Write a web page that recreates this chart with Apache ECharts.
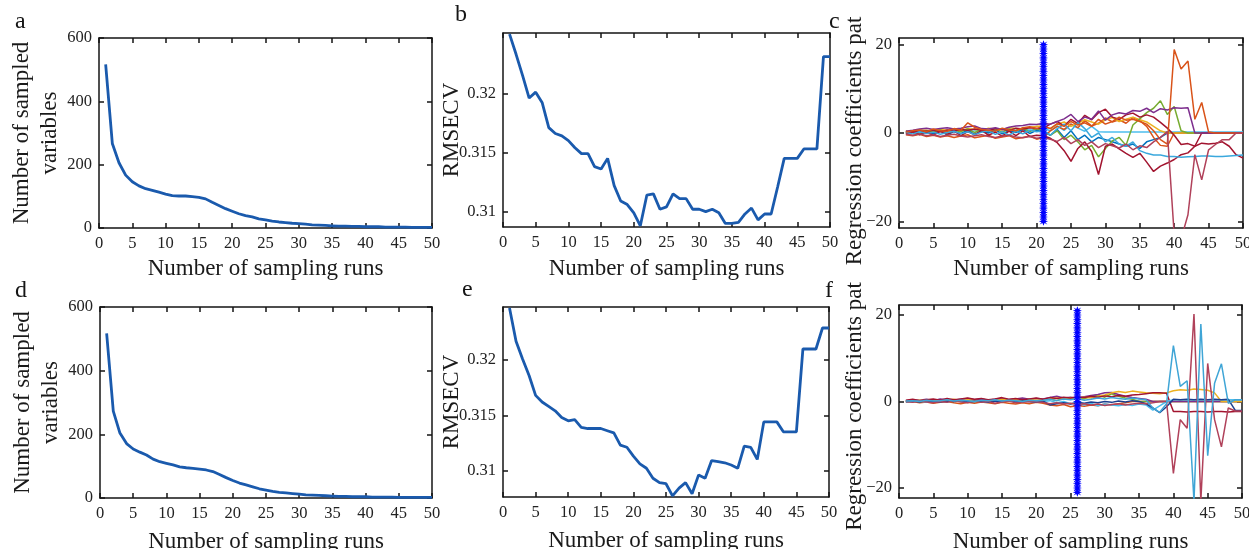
<!DOCTYPE html>
<html>
<head>
<meta charset="utf-8">
<script src="https://cdn.jsdelivr.net/npm/echarts@6/dist/echarts.min.js"></script>
<style>
  html, body { margin: 0; padding: 0; background: #fff; }
  #chart { width: 1249px; height: 549px; }
</style>
</head>
<body>
<div id="chart"></div>
<script>
// sampling runs (x) and x tick labels
const runs = [1,2,3,4,5,6,7,8,9,10,11,12,13,14,15,16,17,18,19,20,21,22,23,24,25,26,27,28,29,30,31,32,33,34,35,36,37,38,39,40,41,42,43,44,45,46,47,48,49,50];
const runTicks = [0, 5, 10, 15, 20, 25, 30, 35, 40, 45, 50];

// panels a / d : number of sampled variables
const varsA = [517,267,206,167,146,133,124,119,113,107,102,101,101,99,97,92,81,71,61,53,45,39,35,29,26,22,19,17,15,14,12,10,9,8,7,6,6,5,5,4,4,4,3,3,3,3,2,2,2,2];
const varsD = [517,273,204,171,154,144,135,122,114,109,104,98,95,93,91,88,83,74,64,55,47,41,35,29,25,21,18,16,14,12,10,9,8,7,6,5,5,4,4,4,3,3,3,3,2,2,2,2,2,2];
const varsTicks = [0, 200, 400, 600];

// panels b / e : RMSECV
const rmsecvB = [0.3250,0.3233,0.3215,0.3196,0.3201,0.3192,0.3171,0.3166,0.3164,0.3160,0.3154,0.3149,0.3149,0.3138,0.3136,0.3145,0.3122,0.3109,0.3106,0.3099,0.3088,0.3114,0.3115,0.3102,0.3104,0.3115,0.3111,0.3111,0.3102,0.3102,0.3100,0.3102,0.3099,0.3090,0.3090,0.3091,0.3098,0.3103,0.3093,0.3098,0.3098,0.3121,0.3145,0.3145,0.3145,0.3153,0.3153,0.3153,0.3231,0.3231];
const rmsecvE = [0.3247,0.3217,0.3201,0.3186,0.3168,0.3162,0.3158,0.3154,0.3148,0.3145,0.3146,0.3139,0.3138,0.3138,0.3138,0.3136,0.3134,0.3123,0.3121,0.3113,0.3106,0.3102,0.3093,0.3089,0.3088,0.3077,0.3084,0.3089,0.3079,0.3096,0.3093,0.3109,0.3108,0.3107,0.3105,0.3102,0.3122,0.3121,0.3110,0.3144,0.3144,0.3144,0.3135,0.3135,0.3135,0.3210,0.3210,0.3210,0.3229,0.3229];
const rmsecvTicks = [0.31, 0.315, 0.32];

// panel c : regression coefficient paths
const cPurple = [0.4,0.6,0.9,1.1,0.8,1.0,1.2,0.9,1.1,1.4,1.6,1.0,0.9,1.2,0.8,1.3,1.6,1.7,2.0,1.9,2.2,2.0,2.6,3.2,4.2,2.6,3.6,3.1,5.0,2.9,4.1,4.6,4.3,5.1,4.9,5.6,4.6,5.5,5.2,5.7,5.6,5.7,0,0,0,0,0,0,0,0];
const cOrange = [0.2,0.5,0.7,0.3,0.9,0.5,0.4,1.0,0.6,2.3,1.3,0.8,0.6,0.4,1.1,0.7,0.5,1.2,1.4,1.0,1.6,1.0,2.1,1.5,2.6,1.8,2.3,1.5,3.1,2.0,2.6,3.6,2.9,3.1,2.6,2.0,0.5,-1.5,-2.5,18.9,14.5,16.3,3.1,6.9,0.2,0,0,0,0,0];
const cOrange2 = [-0.4,-0.6,-0.3,-0.8,-0.5,-0.9,-0.6,-1.0,-0.7,-0.4,-1.1,-0.8,-0.5,-1.2,-0.9,-0.6,-1.3,-1.0,-0.7,-1.4,-1.0,0.5,1.5,0.8,2.0,1.2,2.8,1.6,2.2,3.4,2.5,3.0,2.2,3.5,2.8,1.5,-1.0,-2.8,-3.0,0,0,0,0,0,0,0,0,0,0,0];
const cYellow = [0.5,0.3,0.7,0.6,0.4,0.8,0.6,0.9,0.5,1.0,0.8,0.6,1.1,0.9,0.7,1.2,1.0,0.8,1.3,1.5,1.5,1.0,2.0,2.5,1.5,2.2,3.0,2.5,2.0,3.0,3.5,2.6,3.1,3.6,3.0,2.5,1.5,0.5,0,0,0,0,0,0,0,0,0,0,0,0];
const cGreen = [0.1,0.4,-0.2,0.5,0.2,0.7,0.0,0.6,0.3,0.9,0.1,0.8,0.4,1.0,0.2,0.9,0.5,1.1,0.3,1.0,0.5,-0.5,0.5,-1.5,-0.5,-2.0,-3.8,-2.8,-5.4,-3.5,-1.8,-1.0,-2.8,1.8,3.2,4.6,5.6,7.3,4.2,6.0,0.5,0,0,0,0,0,0,0,0,0];
const cBlue = [0.0,0.3,-0.3,0.4,-0.2,0.5,-0.4,0.3,-0.1,0.6,-0.3,0.4,0.0,0.7,-0.2,0.5,0.1,0.8,-0.1,0.6,0.3,-0.5,0.8,-1.0,0.5,-1.5,-0.5,-2.0,-1.0,-1.5,-2.0,-2.5,-3.0,-2.5,-3.5,-2.0,-1.5,-1.0,0,0,0,0,0,0,0,0,0,0,0,0];
const cRedBig = [-0.3,-0.5,-0.2,-0.6,-0.4,-0.8,-0.5,-0.3,-0.7,-0.9,-0.6,-0.4,-0.8,-1.0,-0.7,-0.5,-0.9,-1.1,-0.8,-1.2,-1.0,-1.4,-1.9,-1.0,-2.4,-1.5,-2.8,-2.0,-3.3,-2.4,-2.9,-3.4,-2.5,-3.8,-2.9,-3.3,-2.0,-1.0,0.3,-23,-24,-18.5,-4.9,-10.6,-3.8,-2.6,-1.5,-1.5,0,0];
const cRedV = [-0.2,0.3,-0.4,0.2,-0.5,0.4,-0.3,0.5,-0.6,0.3,-0.4,0.6,-0.5,0.2,-0.7,0.4,-0.6,0.5,-0.8,-0.5,-0.6,-1.2,-2.2,-4.0,-6.4,-3.5,-2.0,-4.2,-9.4,-3.0,-2.5,-3.6,-4.6,-5.5,-4.6,-6.6,-8.7,-7.5,-6.8,-6.0,-4.9,-4.5,-3.0,0,0,0,0,0,0,0];
const cRedUp = [0.3,0.2,0.5,0.4,0.6,0.3,0.7,0.5,0.8,0.6,0.9,0.7,0.5,1.0,0.8,0.6,1.1,0.9,1.2,1.0,1.1,2.0,2.6,1.6,3.1,2.1,4.0,3.0,4.6,5.4,3.6,3.1,4.1,4.5,3.6,4.1,3.6,2.4,1.1,-0.5,-2.6,-2.4,-3.0,-2.3,-2.5,-2.3,-2.0,-3.0,-4.9,-5.7];
const cCyanLow = [0.1,-0.2,0.3,-0.1,0.2,-0.3,0.1,0.4,-0.2,0.3,-0.4,0.2,0.5,-0.3,0.3,-0.5,0.4,-0.2,0.6,0.3,0.5,-0.5,1.0,2.0,0.5,2.4,1.0,-1.0,0.0,-2.0,-1.0,-2.5,-3.0,-2.0,-4.0,-4.6,-5.0,-5.0,-5.3,-5.3,-5.5,-5.4,-5.3,-5.2,-5.2,-5.3,-5.3,-5.2,-5.1,-5.0];
const cCyanFlat = [0.2,0.4,0.1,0.5,0.3,0.6,0.2,0.4,0.7,0.3,0.5,0.8,0.4,0.6,0.9,0.5,0.7,1.0,0.6,0.8,1.0,0.5,1.6,0.6,2.0,1.1,0.4,1.5,0.3,0.2,0.2,0.2,0.2,0.2,0.2,0.2,0.2,0.2,0.2,0.2,0.2,0.2,0.2,0.2,0.2,0.2,0.2,0.2,0.2,0.2];
const cSelectedRun = 21;
const cMarkerY = [-20,-19,-18,-17,-16,-15,-14,-13,-12,-11,-10,-9,-8,-7,-6,-5,-4,-3,-2,-1,0,1,2,3,4,5,6,7,8,9,10,11,12,13,14,15,16,17,18,19,20];

// panel f : regression coefficient paths
const fOrange = [-0.2,0.0,-0.3,-0.1,-0.4,-0.2,0.0,-0.3,-0.5,-0.2,-0.4,-0.1,-0.3,-0.5,-0.2,-0.4,-0.6,-0.3,-0.5,-0.2,-0.4,-0.8,-1.0,-0.7,-1.2,-0.9,-1.1,-0.8,-1.0,-0.6,-0.8,-0.5,-0.3,0,0,0,0,0,0,0,0,0,0,0,0,0,0,0,0,0];
const fGreen = [0.1,0.0,0.2,0.1,0.3,0.0,0.2,0.1,0.3,0.2,0.0,0.2,0.1,0.3,0.2,0.1,0.3,0.0,0.2,0.1,0.3,0.6,0.2,0.8,0.5,1.0,0.6,1.2,1.5,1.0,1.8,1.2,0.8,0.5,0,0,0,0,0,0,0,0,0,0,0,0,0,0,0,0];
const fPurple = [0.2,0.4,0.3,0.5,0.2,0.6,0.4,0.3,0.5,0.7,0.4,0.6,0.3,0.5,0.7,0.4,0.6,0.8,0.5,0.7,0.6,0.9,1.2,0.8,1.0,0.7,1.1,1.4,1.6,2.0,2.1,1.6,1.2,0.9,0.7,0.5,0,0,0,0,0,0,0,0,0,0,0,0,0,0];
const fYellow = [0.2,0.1,0.3,0.2,0.4,0.1,0.3,0.5,0.2,0.4,0.3,0.1,0.4,0.2,0.5,0.3,0.4,0.2,0.5,0.3,0.4,0.6,0.8,0.5,0.9,0.7,1.0,0.8,1.2,1.5,2.0,2.3,2.1,2.4,2.2,2.0,1.9,1.8,2.0,2.5,2.7,2.6,2.9,2.8,2.6,2.0,0,0,0,0];
const fRedFlat = [0.3,0.5,0.2,0.4,0.6,0.3,0.7,0.4,0.6,0.8,0.5,0.7,0.4,0.6,0.9,0.5,0.7,0.4,0.6,0.8,0.5,0.9,0.7,1.0,0.8,1.1,0.9,1.2,1.0,1.3,1.1,1.4,1.2,1.5,1.6,1.8,2.0,2.0,1.9,-2.3,-2.3,-2.4,-2.3,-2.3,-2.4,-2.3,-2.3,-2.4,-2.3,-2.3];
const fCyanFlat = [-0.1,0.0,0.1,-0.2,0.0,0.1,-0.1,0.2,0.0,-0.1,0.1,0.0,-0.2,0.1,0.0,0.2,-0.1,0.0,0.1,-0.1,0.0,0.2,-0.3,0.0,-0.5,-0.2,-0.8,-0.4,-1.0,-0.6,-0.8,-1.0,-0.7,-0.9,-0.6,-0.8,-2.0,-1.0,0.0,0.4,0.4,0.4,0.4,0.4,0.4,0.4,0.4,0.4,0.4,0.4];
const fNavy = [0.0,0.1,-0.1,0.2,0.0,-0.1,0.1,0.0,0.2,-0.1,0.0,0.1,-0.2,0.1,0.0,0.2,-0.1,0.1,0.0,-0.2,0.1,-0.8,-0.5,-0.3,-0.6,-0.2,-0.4,-0.1,-0.3,0.0,-0.2,0.1,-0.1,0.2,0.0,-0.5,-1.5,-2.6,-1.2,0.5,0.4,0.5,0.4,0.5,0.4,0.5,0.4,0.5,-2.0,-2.1];
const fRedZig = [0.0,-0.2,0.1,-0.1,-0.3,0.0,-0.2,0.2,-0.1,-0.3,0.1,-0.2,0.0,-0.4,-0.1,0.1,-0.3,-0.2,0.0,-0.1,-0.2,-0.5,-0.3,-0.6,-0.4,-0.7,-0.5,-0.8,-0.6,-0.9,-0.7,-0.5,-0.8,-0.6,-0.4,-0.5,-0.3,0.0,0.0,-16.6,-4.2,-6.2,20.2,-23,8.8,-4.2,-10.5,-1.5,-2.2,-2.2];
const fCyanZig = [0.1,0.2,0.0,0.3,0.1,0.2,0.4,0.1,0.3,0.2,0.0,0.3,0.2,0.4,0.1,0.3,0.2,0.0,0.3,0.2,0.3,0.5,0.2,0.6,0.4,0.7,0.3,0.5,0.8,0.6,0.9,0.7,0.5,0.8,0.6,0.4,-1.5,-2.5,-0.5,12.9,3.5,4.8,-23,17.9,-12.5,4.2,8.7,-0.4,0.4,0.4];
const fSelectedRun = 26;
const fMarkerY = [-21,-20,-19,-18,-17,-16,-15,-14,-13,-12,-11,-10,-9,-8,-7,-6,-5,-4,-3,-2,-1,0,1,2,3,4,5,6,7,8,9,10,11,12,13,14,15,16,17,18,19,20,21];
const coefTicks = [-20, 0, 20];

const SERIF = '"Liberation Serif", "DejaVu Serif", serif';
const INK = '#151515';
const CURVE = '#1a5aad';
const STAR = 'path://M5,0 L6.2,3.2 L9.3,1.4 L7.2,4.1 L10,5 L7.2,5.9 L9.3,8.6 L6.2,6.8 L5,10 L3.8,6.8 L0.7,8.6 L2.8,5.9 L0,5 L2.8,4.1 L0.7,1.4 L3.8,3.2 Z';

const chart = echarts.init(document.getElementById('chart'));

const grids = [], xAxes = [], yAxes = [], series = [];

const lineStyleAxis = { color: INK, width: 1.5 };
const tickLabel = { fontFamily: SERIF, fontSize: 16.5, color: '#222' };
const nameStyle = { fontFamily: SERIF, fontSize: 23, color: '#1a1a1a', lineHeight: 28 };

function minus(v) { return String(v).replace('-', '\u2212'); }

// one MATLAB-style boxed panel: ticks inside on all four sides
function addPanel(box, y, xNameGap) {
  const i = grids.length;
  grids.push({ left: box[0], top: box[1], width: box[2], height: box[3], containLabel: false, outerBoundsMode: 'none' });
  const xBase = {
    type: 'value', gridIndex: i, min: 0, max: 50, interval: 5,
    axisLine: { show: true, onZero: false, lineStyle: lineStyleAxis },
    axisTick: { show: true, inside: true, length: 5, lineStyle: lineStyleAxis },
    splitLine: { show: false }
  };
  xAxes.push(Object.assign({}, xBase, {
    position: 'bottom',
    axisLabel: Object.assign({ margin: 7, hideOverlap: false, showMinLabel: true, showMaxLabel: true,
      formatter: v => runTicks.includes(v) ? String(v) : '' }, tickLabel),
    name: 'Number of sampling runs', nameLocation: 'middle', nameGap: xNameGap,
    nameMoveOverlap: false, nameTextStyle: nameStyle
  }));
  xAxes.push(Object.assign({}, xBase, { position: 'top', axisLabel: { show: false } }));

  const tickSpec = y.ticks ? { customValues: y.ticks } : {};
  const yBase = {
    type: 'value', gridIndex: i, min: y.min, max: y.max, interval: y.interval,
    axisLine: { show: true, onZero: false, lineStyle: lineStyleAxis },
    axisTick: Object.assign({ show: true, inside: true, length: 5, lineStyle: lineStyleAxis }, tickSpec),
    splitLine: { show: false }
  };
  yAxes.push(Object.assign({}, yBase, {
    position: 'left',
    axisLabel: Object.assign({ margin: 7, showMinLabel: true, showMaxLabel: true, formatter: minus }, tickLabel, tickSpec),
    name: y.name, nameLocation: 'middle', nameGap: y.nameGap, nameMoveOverlap: false,
    nameTextStyle: Object.assign({}, nameStyle, y.namePad ? { padding: y.namePad } : {})
  }));
  yAxes.push(Object.assign({}, yBase, { position: 'right', axisLabel: { show: false } }));
  return i;
}

function pairs(values) { return runs.map((r, k) => [r, values[k]]); }

function addCurve(i, values) {
  series.push({
    type: 'line', xAxisIndex: 2 * i, yAxisIndex: 2 * i, data: pairs(values),
    showSymbol: false, silent: true, clip: true,
    lineStyle: { color: CURVE, width: 2.8 }
  });
}

function addPaths(i, paths) {
  paths.forEach(p => series.push({
    type: 'line', xAxisIndex: 2 * i, yAxisIndex: 2 * i, data: pairs(p[0]),
    showSymbol: false, silent: true, clip: true,
    lineStyle: { color: p[1], width: 1.5 }
  }));
}

function addSelected(i, run, ys) {
  series.push({
    type: 'line', xAxisIndex: 2 * i, yAxisIndex: 2 * i,
    data: ys.map(v => [run, v]),
    symbol: STAR, symbolSize: 9, showSymbol: true, silent: true, clip: true,
    itemStyle: { color: '#0000ff' },
    lineStyle: { color: '#0000ff', width: 2.4 }
  });
}

// top row
const pa = addPanel([99, 38, 333, 190], { min: 0, max: 600, interval: 200, name: 'Number of sampled\nvariables', nameGap: 35 }, 27);
const pb = addPanel([503, 33, 327, 194], { min: 0.3087, max: 0.3251, ticks: rmsecvTicks, name: 'RMSECV', nameGap: 37 }, 28);
const pc = addPanel([899, 38, 344, 190], { min: -21.5, max: 21.5, ticks: coefTicks, name: 'Regression coefficients pat', nameGap: 30, namePad: [0, 16, 0, 0] }, 27);
// bottom row
const pd = addPanel([100, 307, 332, 191], { min: 0, max: 600, interval: 200, name: 'Number of sampled\nvariables', nameGap: 35 }, 30);
const pe = addPanel([503, 307, 326, 190], { min: 0.3076, max: 0.3248, ticks: rmsecvTicks, name: 'RMSECV', nameGap: 37 }, 30);
const pf = addPanel([899, 305, 343, 193], { min: -22.3, max: 22.3, ticks: coefTicks, name: 'Regression coefficients pat', nameGap: 30, namePad: [0, 10, 0, 0] }, 30);

addCurve(pa, varsA);
addCurve(pb, rmsecvB);
addCurve(pd, varsD);
addCurve(pe, rmsecvE);

addPaths(pc, [
  [cCyanFlat, '#4DBEEE'], [cBlue, '#0072BD'], [cOrange2, '#D95319'], [cYellow, '#EDB120'],
  [cGreen, '#77AC30'], [cRedV, '#A2142F'], [cRedUp, '#A2142F'], [cCyanLow, '#3AA8DD'],
  [cPurple, '#7E2F8E'], [cOrange, '#D95319'], [cRedBig, '#B0415A']
]);
addSelected(pc, cSelectedRun, cMarkerY);

addPaths(pf, [
  [fOrange, '#D95319'], [fGreen, '#77AC30'], [fPurple, '#7E2F8E'], [fYellow, '#EDB120'],
  [fRedFlat, '#A2142F'], [fCyanFlat, '#4DBEEE'], [fNavy, '#1B3F8F'],
  [fRedZig, '#B0415A'], [fCyanZig, '#3FA5D6']
]);
addSelected(pf, fSelectedRun, fMarkerY);

const letters = [['a', 15, 22], ['b', 455, 15], ['c', 829, 22], ['d', 15, 291], ['e', 462, 290], ['f', 825, 291]];

chart.setOption({
  animation: false,
  backgroundColor: '#ffffff',
  grid: grids,
  xAxis: xAxes,
  yAxis: yAxes,
  series: series,
  graphic: letters.map(l => ({
    type: 'text', x: l[1], y: l[2], silent: true,
    style: { text: l[0], fill: INK, font: '24px ' + SERIF, align: 'left', verticalAlign: 'middle' }
  }))
});
</script>
</body>
</html>
